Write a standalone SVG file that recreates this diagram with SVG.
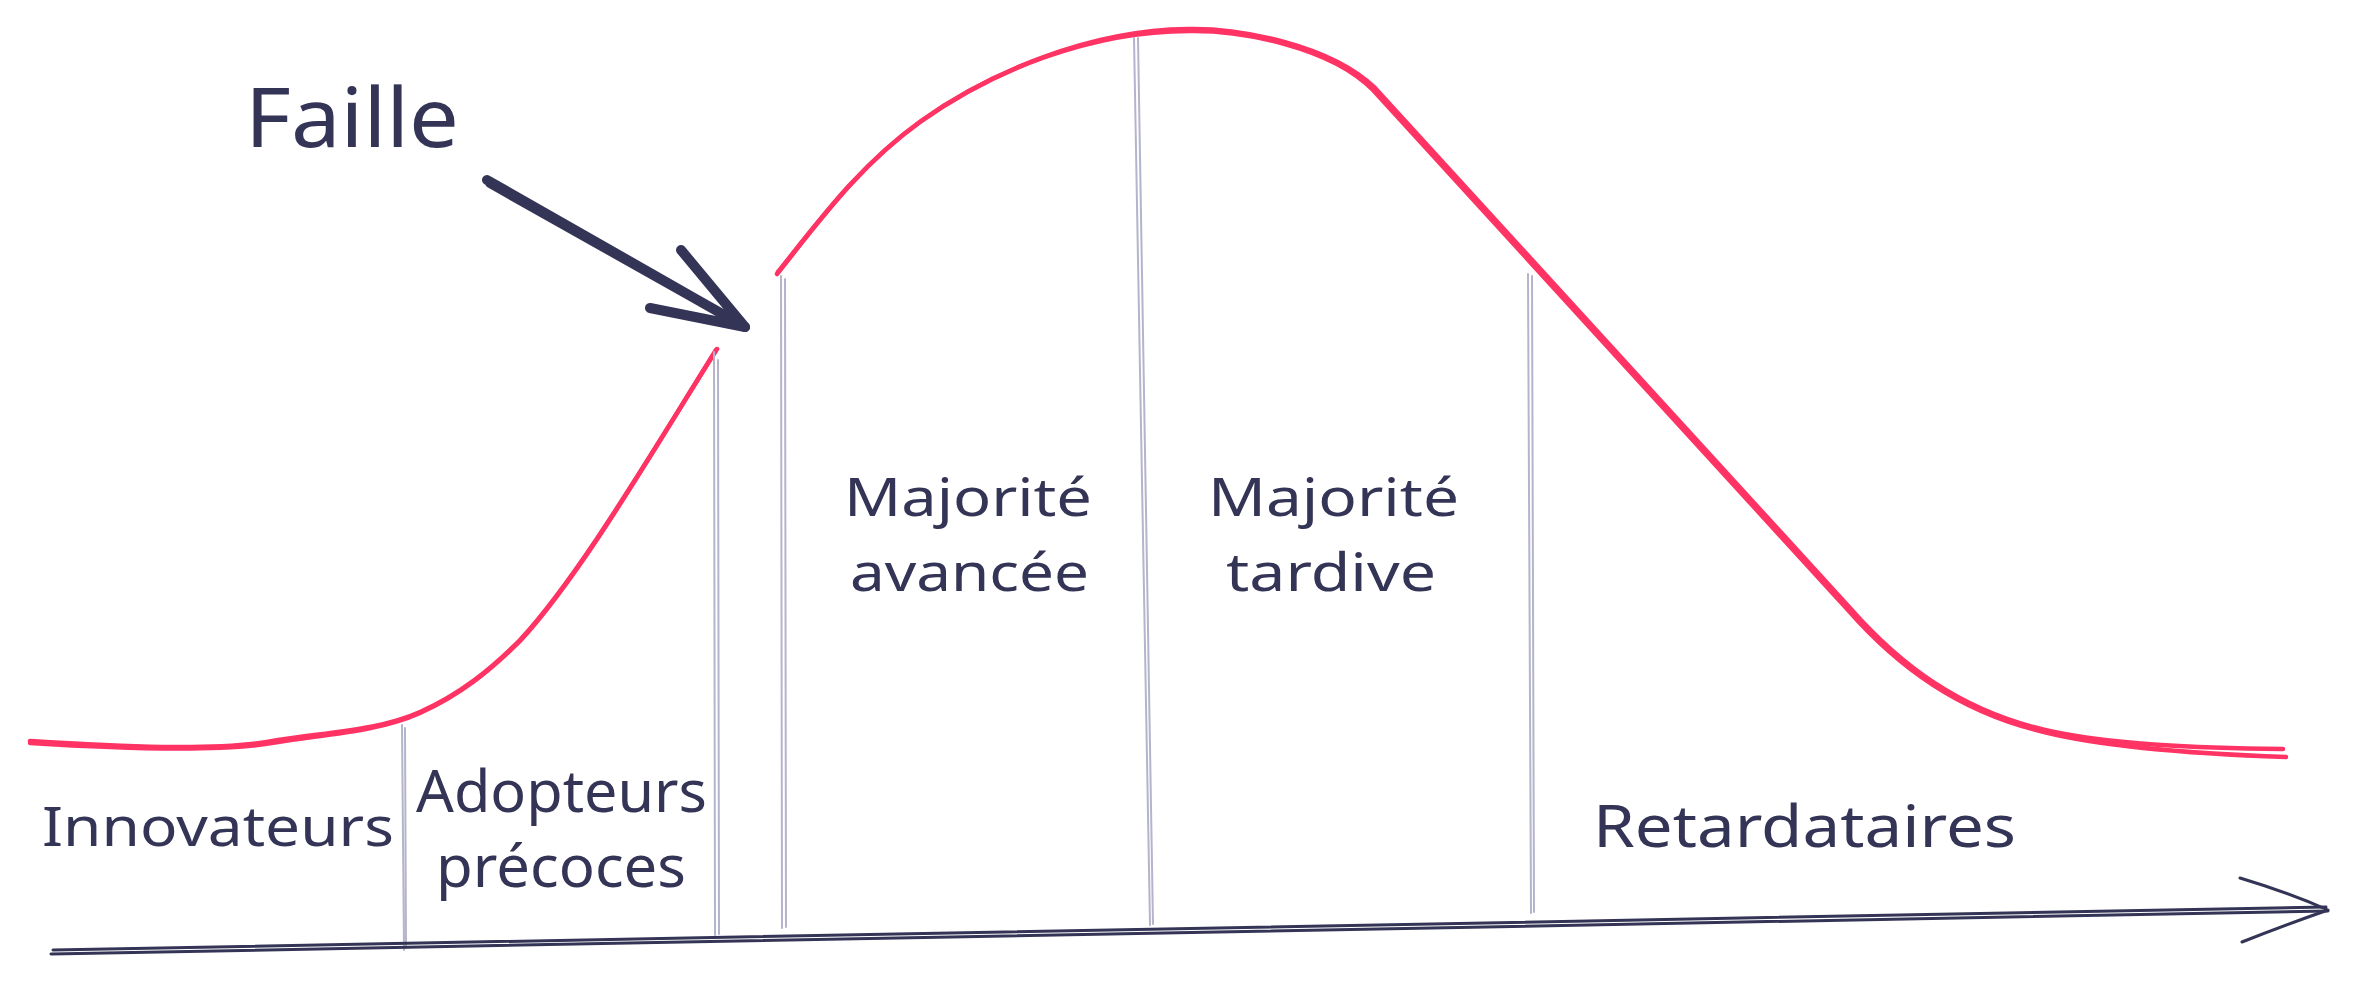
<svg xmlns="http://www.w3.org/2000/svg" width="2358" height="983" viewBox="0 0 2358 983">
<style>
.curve{fill:none;stroke:#ff3364;stroke-width:4.5;stroke-linecap:round;stroke-linejoin:round}
.sep{fill:none;stroke:#b4b4cc;stroke-width:2;stroke-linecap:round}
.axis{fill:none;stroke:#343456;stroke-width:3;stroke-linecap:round;stroke-linejoin:round}
.big{fill:none;stroke:#343456;stroke-width:10;stroke-linecap:round;stroke-linejoin:round}
.lbl{font-family:"Noto Sans","Liberation Sans",sans-serif;fill:#343456}
</style>
<rect width="2358" height="983" fill="#ffffff"/>
<g id="curve">
<path class="curve" d="M30,741 C110,746 220,752 278,740 C330,732 380,730 420,712 C460,694 490,670 520,640 C580,575 650,455 717,349"/>
<path class="curve" d="M30,743 C110,748 220,753 278,742 C330,734 380,731 420,713 C460,695 490,671 520,641 C580,576 650,456 716,350"/>
<path class="curve" d="M777,274 C820,220 860,165 920,122 C990,72 1090,30 1188,29 C1240,28 1330,45 1375,88 L1850,608 C1900,665 1960,710 2045,730 C2110,745 2200,748 2283,749"/>
<path class="curve" d="M778,272 C821,218 861,164 921,121 C991,71 1091,31 1189,31 C1241,30 1331,47 1373,90 L1848,610 C1898,667 1959,712 2044,732 C2108,748 2200,754 2286,757"/>
</g>
<g id="separators">
<path class="sep" d="M402,725 L404,950 M405,728 L406,948"/>
<path class="sep" d="M714,352 L715,935 M718,360 L719,934"/>
<path class="sep" d="M781,276 L782,928 M785,279 L786,927"/>
<path class="sep" d="M1134,38 L1150,925 M1138,38 L1153,924"/>
<path class="sep" d="M1528,274 L1531,913 M1532,276 L1534,912"/>
</g>
<g id="connectors">
<path class="axis" d="M53,950 L2326,907 M51,954 L2328,911"/>
<path class="axis" d="M2240,878 Q2290,893 2328,910 Q2285,925 2242,942"/>
<path class="big" d="M487,180 L745,327 M490,183 L742,325"/>
<path class="big" d="M681,250 L745,327 M650,308 L745,327"/>
</g>
<g id="faille"><text class="lbl" x="245" y="147" font-size="82" textLength="214" lengthAdjust="spacingAndGlyphs">Faille</text></g>
<g id="innovateurs"><text class="lbl" x="42" y="846" font-size="54" textLength="352" lengthAdjust="spacingAndGlyphs">Innovateurs</text></g>
<g id="adopteurs"><text class="lbl" x="416" y="812" font-size="58" textLength="291" lengthAdjust="spacingAndGlyphs">Adopteurs</text>
<text class="lbl" x="436" y="887" font-size="58" textLength="250" lengthAdjust="spacingAndGlyphs">précoces</text></g>
<g id="majorite-avancee"><text class="lbl" x="844" y="516" font-size="52" textLength="248" lengthAdjust="spacingAndGlyphs">Majorité</text>
<text class="lbl" x="850" y="591" font-size="52" textLength="239" lengthAdjust="spacingAndGlyphs">avancée</text></g>
<g id="majorite-tardive"><text class="lbl" x="1208" y="516" font-size="52" textLength="251" lengthAdjust="spacingAndGlyphs">Majorité</text>
<text class="lbl" x="1226" y="591" font-size="52" textLength="210" lengthAdjust="spacingAndGlyphs">tardive</text></g>
<g id="retardataires"><text class="lbl" x="1593" y="847" font-size="58" textLength="423" lengthAdjust="spacingAndGlyphs">Retardataires</text></g>
</svg>
